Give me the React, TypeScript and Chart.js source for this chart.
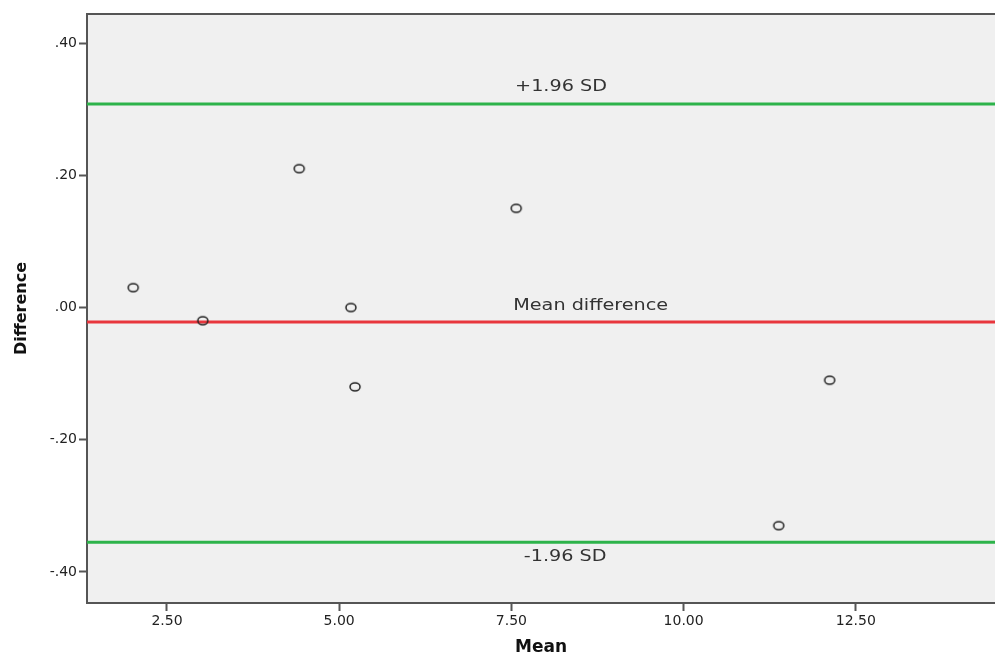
import React, { useEffect, useRef } from "react";
import { Chart, registerables } from "chart.js";

Chart.register(...registerables);

// Data (Bland-Altman)
const meanValues = [2.01, 3.02, 4.42, 5.17, 5.23, 7.57, 11.38, 12.12];
const diffValues = [0.03, -0.02, 0.21, 0.0, -0.12, 0.15, -0.33, -0.11];
const upperLimit = 0.308;
const meanDifference = -0.022;
const lowerLimit = -0.355;
const xTicks = [2.5, 5, 7.5, 10, 12.5];
const yTicks = [-0.4, -0.2, 0, 0.2, 0.4];
const xRange = [1.339, 14.52];
const yRange = [-0.447, 0.444];
const lineLabels = ["+1.96 SD", "Mean difference", "-1.96 SD"];
const lineLabelX = [8.22, 8.65, 8.28];

const fmtY = (v: number) => {
  const s = v.toFixed(2);
  return s.replace(/^(-?)0\./, "$1.");
};

function makeEllipse(): HTMLCanvasElement {
  const c = document.createElement("canvas");
  c.width = 14;
  c.height = 12;
  const ctx = c.getContext("2d")!;
  ctx.strokeStyle = "#222";
  ctx.lineWidth = 1.5;
  ctx.beginPath();
  ctx.ellipse(7, 6, 5, 4, 0, 0, Math.PI * 2);
  ctx.stroke();
  return c;
}

export default function App() {
  const ref = useRef<HTMLCanvasElement>(null);
  useEffect(() => {
    if (!ref.current) return;
    const bgPlugin = {
      id: "bg",
      beforeDraw(chart: any) {
        const { ctx, chartArea } = chart;
        ctx.save();
        ctx.fillStyle = "#f0f0f0";
        ctx.fillRect(chartArea.left, chartArea.top, chartArea.right - chartArea.left, chartArea.bottom - chartArea.top);
        ctx.strokeStyle = "#555";
        ctx.lineWidth = 2;
        ctx.beginPath();
        ctx.moveTo(chartArea.left, chartArea.top);
        ctx.lineTo(chartArea.right, chartArea.top);
        ctx.stroke();
        ctx.restore();
      },
      afterDatasetsDraw(chart: any) {
        const { ctx } = chart;
        const xs = chart.scales.x;
        const ys = chart.scales.y;
        const vals = [upperLimit, meanDifference, lowerLimit];
        const offs = [-17, -16, 15];
        ctx.save();
        ctx.fillStyle = "#333";
        ctx.font = "16px 'DejaVu Sans'";
        ctx.textAlign = "center";
        ctx.textBaseline = "middle";
        for (let i = 0; i < 3; i++) {
          const px = xs.getPixelForValue(lineLabelX[i]);
          const py = ys.getPixelForValue(vals[i]) + offs[i];
          ctx.save();
          ctx.translate(px, py);
          ctx.scale(1.2, 1);
          ctx.fillText(lineLabels[i], 0, 0);
          ctx.restore();
        }
        ctx.restore();
      },
    };
    const pt = makeEllipse();
    const hline = (y: number, color: string) => ({
      type: "line" as const,
      data: [
        { x: xRange[0], y },
        { x: xRange[1], y },
      ],
      borderColor: color,
      borderWidth: 3,
      pointRadius: 0,
      showLine: true,
      order: 2,
    });
    const chart = new Chart(ref.current, {
      type: "scatter",
      data: {
        datasets: [
          hline(upperLimit, "#2db34a"),
          hline(meanDifference, "#e8363d"),
          hline(lowerLimit, "#2db34a"),
          {
            type: "scatter",
            data: meanValues.map((x, i) => ({ x, y: diffValues[i] })),
            pointStyle: pt as any,
            pointRadius: 6,
            order: 1,
          } as any,
        ],
      },
      options: {
        animation: false,
        responsive: false,
        layout: { autoPadding: false, padding: { top: 14, right: 0, left: 0, bottom: 0 } },
        plugins: { legend: { display: false }, tooltip: { enabled: false } },
        scales: {
          x: {
            type: "linear",
            min: xRange[0],
            max: xRange[1],
            afterBuildTicks: (s: any) => {
              s.ticks = xTicks.map((v) => ({ value: v }));
            },
            afterFit: (s: any) => {
              s.height = 54;
              s.paddingLeft = 0;
              s.paddingRight = 0;
            },
            ticks: {
              color: "#222",
              font: { family: "'DejaVu Sans'", size: 14 },
              padding: 2,
              maxRotation: 0,
              callback: (v: any) => Number(v).toFixed(2),
            },
            grid: { drawOnChartArea: false, drawTicks: true, tickLength: 8, color: "#555", tickWidth: 2 },
            border: { display: true, color: "#555", width: 2 },
            title: {
              display: true,
              text: "Mean",
              color: "#111",
              font: { family: "'DejaVu Sans'", size: 17, weight: "bold", lineHeight: 1.1 },
              padding: { top: 0, bottom: 0 },
            },
          },
          y: {
            type: "linear",
            min: yRange[0],
            max: yRange[1],
            afterBuildTicks: (s: any) => {
              s.ticks = yTicks.map((v) => ({ value: v }));
            },
            afterFit: (s: any) => {
              s.width = 87;
            },
            ticks: {
              color: "#222",
              font: { family: "'DejaVu Sans'", size: 14 },
              padding: 2,
              callback: (v: any) => fmtY(Number(v)),
            },
            grid: { drawOnChartArea: false, drawTicks: true, tickLength: 8, color: "#555", tickWidth: 2 },
            border: { display: true, color: "#555", width: 2 },
            title: {
              display: true,
              text: "Difference",
              color: "#111",
              font: { family: "'DejaVu Sans'", size: 16, weight: "bold", lineHeight: 1.2 },
              padding: { top: 12, bottom: 0 },
            },
          },
        },
      },
      plugins: [bgPlugin],
    });
    return () => chart.destroy();
  }, []);
  return (
    <canvas
      ref={ref}
      width={995}
      height={657}
      style={{ position: "absolute", left: 0, top: 0, width: 995, height: 657 }}
    />
  );
}
